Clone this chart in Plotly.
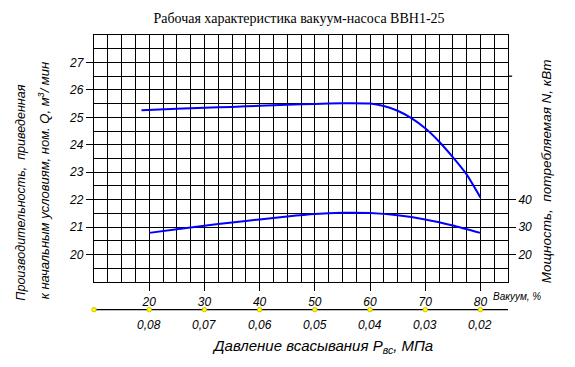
import plotly.graph_objects as go

# ---- data ----
vac_q = [18.6, 25, 30, 35, 40, 45, 50, 55, 60, 62.5, 65, 67.5, 70, 72.5, 75, 77.5, 80]
q_vals = [25.26, 25.31, 25.35, 25.38, 25.42, 25.46, 25.49, 25.51, 25.5, 25.41, 25.24, 24.97, 24.6, 24.12, 23.55, 22.92, 22.08]

vac_n = [20, 25, 30, 35, 40, 45, 50, 55, 60, 65, 70, 75, 80]
n_vals = [27.9, 29.2, 30.5, 31.7, 32.8, 33.9, 34.8, 35.2, 35.1, 34.3, 32.8, 30.6, 27.9]

vac_ticks = [20, 30, 40, 50, 60, 70, 80]
vac_labels = ["20", "30", "40", "50", "60", "70", "80"]
dot_vac = [10, 20, 30, 40, 50, 60, 70, 80]
press_labels = ["0,08", "0,07", "0,06", "0,05", "0,04", "0,03", "0,02"]
q_ticks = [20, 21, 22, 23, 24, 25, 26, 27]
n_ticks = [20, 30, 40]

X_RANGE = [10, 85]
FONT = "Liberation Sans"
ital = dict(family=FONT, size=12, color="black", style="italic")

fig = go.Figure()
fig.add_trace(go.Scatter(x=vac_q, y=q_vals, mode="lines",
                         line=dict(color="#0000ff", width=2, shape="spline", smoothing=0.5),
                         hoverinfo="skip"))
fig.add_trace(go.Scatter(x=vac_n, y=n_vals, mode="lines", yaxis="y2",
                         line=dict(color="#0000ff", width=2, shape="spline", smoothing=0.5),
                         hoverinfo="skip"))

fig.update_layout(
    width=575, height=367, autosize=False,
    margin=dict(l=94, r=67, t=35, b=85),
    paper_bgcolor="white", plot_bgcolor="white",
    showlegend=False,
    title=dict(text="Рабочая характеристика вакуум-насоса ВВН1-25",
               x=0.52, xanchor="center", y=0.951, yanchor="middle",
               font=dict(family="Liberation Serif", size=14, color="black")),
    xaxis=dict(range=X_RANGE, tickvals=vac_ticks, ticktext=vac_labels,
               ticks="outside", ticklen=8, tickwidth=1.3, tickcolor="black",
               showgrid=True, gridcolor="black", gridwidth=1.3,
               minor=dict(dtick=2.5, tick0=10, showgrid=True, gridcolor="black", gridwidth=1.3),
               showline=True, linecolor="black", linewidth=1.3, mirror=True,
               zeroline=False, tickfont=ital, fixedrange=True),
    yaxis=dict(range=[19, 28], tickvals=q_ticks,
               ticks="outside", ticklen=7, tickwidth=1.3, tickcolor="black",
               showgrid=True, gridcolor="black", gridwidth=1.3,
               minor=dict(dtick=0.5, tick0=19, showgrid=True, gridcolor="black", gridwidth=1.3),
               showline=True, linecolor="black", linewidth=1.3, mirror=True,
               zeroline=False, tickfont=ital, fixedrange=True),
    yaxis2=dict(range=[10, 100], tickvals=n_ticks, overlaying="y", side="right",
                ticks="outside", ticklen=7, tickwidth=1.3, tickcolor="black",
                showgrid=False, zeroline=False, showline=False,
                tickfont=ital, fixedrange=True),
)

# lower scale line
LINE_Y = -0.112
fig.add_shape(type="line", xref="paper", yref="paper", x0=0, x1=1, y0=LINE_Y, y1=LINE_Y,
              line=dict(color="black", width=1.3))
# yellow dots on the lower scale line (positions derived from the vacuum scale)
span = X_RANGE[1] - X_RANGE[0]
for v in dot_vac:
    px = (v - X_RANGE[0]) / span
    fig.add_shape(type="circle", xref="paper", yref="paper",
                  x0=px - 0.0055, x1=px + 0.0055, y0=LINE_Y - 0.009, y1=LINE_Y + 0.009,
                  fillcolor="#ffff00", line=dict(color="#c8b400", width=0.8))
# small extension at 26.5 on the right
fig.add_shape(type="line", xref="paper", yref="y", x0=1, x1=1.01, y0=26.5, y1=26.5,
              line=dict(color="black", width=1.3))

for v, lab in zip(vac_ticks, press_labels):
    fig.add_annotation(x=v, y=-0.1727, xref="x", yref="paper", text=lab, showarrow=False,
                       font=ital, xanchor="center", yanchor="middle")

fig.add_annotation(x=1.0225, y=-0.059, xref="paper", yref="paper", text="Вакуум, %",
                   showarrow=False, font=dict(family=FONT, size=10, color="black", style="italic"),
                   xanchor="center", yanchor="middle")
fig.add_annotation(x=0.553, y=-0.262, xref="paper", yref="paper",
                   text="Давление всасывания P<sub>вс</sub>, МПа",
                   showarrow=False, font=dict(family=FONT, size=15, color="black", style="italic"),
                   xanchor="center", yanchor="middle")
fig.add_annotation(x=-0.175, y=0.36, xref="paper", yref="paper",
                   text="Производительность,  приведенная", textangle=-90,
                   showarrow=False, font=dict(family=FONT, size=12.5, color="black", style="italic"),
                   xanchor="center", yanchor="middle")
fig.add_annotation(x=-0.1217, y=0.41, xref="paper", yref="paper",
                   text="к начальным условиям, ном. Q, м<sup>3</sup>/ мин", textangle=-90,
                   showarrow=False, font=dict(family=FONT, size=13, color="black", style="italic"),
                   xanchor="center", yanchor="middle")
fig.add_annotation(x=1.095, y=0.45, xref="paper", yref="paper",
                   text="Мощность,  потребляемая N, кВт", textangle=-90,
                   showarrow=False, font=dict(family=FONT, size=13.5, color="black", style="italic"),
                   xanchor="center", yanchor="middle")

fig.write_html("out.html", config={"displayModeBar": False},
               post_script="document.body.style.margin='0px';")
